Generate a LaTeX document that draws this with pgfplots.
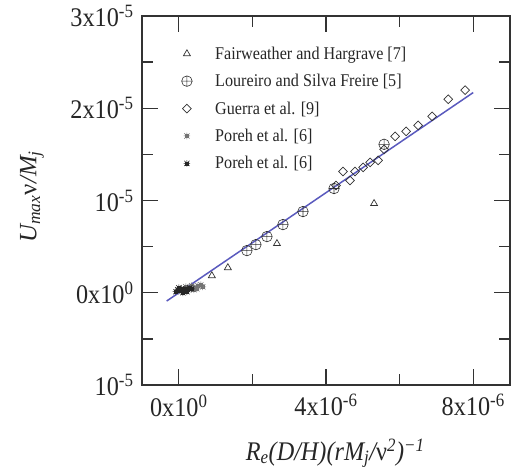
\documentclass[border=0pt]{standalone}
\usepackage{fontspec}
\setmainfont[FakeStretch=0.9]{Liberation Serif}
\newfontfamily\plainserif{Liberation Serif}
\usepackage{pgfplots}
\pgfplotsset{compat=1.18}

\definecolor{fitblue}{RGB}{90,90,190}
\definecolor{mk}{RGB}{50,50,50}

\pgfdeclareplotmark{sqray}{%
  \pgfpathmoveto{\pgfqpoint{-\pgfplotmarksize}{0pt}}\pgfpathlineto{\pgfqpoint{\pgfplotmarksize}{0pt}}%
  \pgfpathmoveto{\pgfqpoint{0pt}{-\pgfplotmarksize}}\pgfpathlineto{\pgfqpoint{0pt}{\pgfplotmarksize}}%
  \pgfpathmoveto{\pgfqpoint{-0.8\pgfplotmarksize}{-0.8\pgfplotmarksize}}\pgfpathlineto{\pgfqpoint{0.8\pgfplotmarksize}{0.8\pgfplotmarksize}}%
  \pgfpathmoveto{\pgfqpoint{-0.8\pgfplotmarksize}{0.8\pgfplotmarksize}}\pgfpathlineto{\pgfqpoint{0.8\pgfplotmarksize}{-0.8\pgfplotmarksize}}%
  \pgfusepathqstroke
  \pgfpathrectangle{\pgfqpoint{-0.45\pgfplotmarksize}{-0.45\pgfplotmarksize}}{\pgfqpoint{0.9\pgfplotmarksize}{0.9\pgfplotmarksize}}%
  \pgfusepathqstroke
}
\pgfdeclareplotmark{sqray*}{%
  \pgfpathmoveto{\pgfqpoint{-\pgfplotmarksize}{0pt}}\pgfpathlineto{\pgfqpoint{\pgfplotmarksize}{0pt}}%
  \pgfpathmoveto{\pgfqpoint{0pt}{-\pgfplotmarksize}}\pgfpathlineto{\pgfqpoint{0pt}{\pgfplotmarksize}}%
  \pgfpathmoveto{\pgfqpoint{-0.8\pgfplotmarksize}{-0.8\pgfplotmarksize}}\pgfpathlineto{\pgfqpoint{0.8\pgfplotmarksize}{0.8\pgfplotmarksize}}%
  \pgfpathmoveto{\pgfqpoint{-0.8\pgfplotmarksize}{0.8\pgfplotmarksize}}\pgfpathlineto{\pgfqpoint{0.8\pgfplotmarksize}{-0.8\pgfplotmarksize}}%
  \pgfusepathqstroke
  \pgfpathrectangle{\pgfqpoint{-0.5\pgfplotmarksize}{-0.5\pgfplotmarksize}}{\pgfqpoint{\pgfplotmarksize}{\pgfplotmarksize}}%
  \pgfusepathqfillstroke
}

\begin{document}
\begin{tikzpicture}
\begin{axis}[
  scale only axis, width=368bp, height=369bp,
  clip=false,
  xmin=-1e-6, xmax=9e-6, ymin=-1e-5, ymax=3e-5,
  xtick={0,4e-6,8e-6},
  xticklabels={0x10\textsuperscript{0},4x10\textsuperscript{-6},8x10\textsuperscript{-6}},
  minor xtick={2e-6,6e-6},
  ytick={-1e-5,0,1e-5,2e-5,3e-5},
  yticklabels={10\textsuperscript{-5},0x10\textsuperscript{0},10\textsuperscript{-5},2x10\textsuperscript{-5},3x10\textsuperscript{-5}},
  minor ytick={-0.5e-5,0.5e-5,1.5e-5,2.5e-5},
  scaled ticks=false,
  major tick length=16bp, minor tick length=11bp,
  tick style={line width=1.3bp, color=black!80},
  axis line style={line width=1.3bp, color=black!80},
  tick label style={font=\fontsize{27}{30}\selectfont, text=black!85},
  xticklabel style={yshift=-6bp},
  yticklabel style={xshift=-5bp},
  xlabel={\itshape R\textsubscript{e}(D/H)(rM\textsubscript{j}/{\upshape ν}\textsuperscript{2})\textsuperscript{−1}},
  xlabel style={font=\fontsize{27}{30}\selectfont, text=black!85, at={(axis description cs:0.525,0)}, anchor=base, yshift=-75bp},
  ylabel={\itshape U\textsubscript{max}{\upshape ν}/M\textsubscript{j}},
  ylabel style={font=\plainserif\fontsize{25}{28}\selectfont, text=black!85, at={(axis description cs:-0.299,0.51)}, anchor=center},
  legend style={draw=none, fill=none, at={(axis description cs:0.099,0.928)}, anchor=north west,
    font=\fontsize{18}{21}\selectfont, text=black!85, legend cell align=left, row sep=9.5bp,
    /tikz/every odd column/.append style={column sep=21bp}},
  legend cell align=left,
]
\addplot[only marks, mark=triangle, mark size=4bp, color=mk, line width=0.7bp]
  coordinates {(0.898e-6,0.185e-5) (1.333e-6,0.272e-5) (2.667e-6,0.533e-5) (5.306e-6,0.967e-5)};
\addlegendentry{Fairweather and Hargrave [7]}
\addplot[only marks, mark=oplus, mark size=5.3bp, color=mk, line width=0.6bp]
  coordinates {(1.850e-6,0.457e-5) (2.095e-6,0.522e-5) (2.395e-6,0.609e-5) (2.830e-6,0.739e-5)
   (3.374e-6,0.880e-5) (4.218e-6,1.130e-5) (5.578e-6,1.609e-5)};
\addlegendentry{Loureiro and Silva Freire [5]}
\addplot[only marks, mark=square, mark size=3.1bp, mark options={rotate=45}, color=mk, line width=0.7bp]
  coordinates {(4.272e-6,1.163e-5) (4.463e-6,1.315e-5) (4.653e-6,1.217e-5) (4.789e-6,1.315e-5)
   (5.007e-6,1.359e-5) (5.197e-6,1.413e-5) (5.415e-6,1.435e-5) (5.578e-6,1.554e-5)
   (5.878e-6,1.696e-5) (6.177e-6,1.750e-5) (6.503e-6,1.815e-5) (6.884e-6,1.913e-5)
   (7.320e-6,2.098e-5) (7.782e-6,2.196e-5)};
\addlegendentry{Guerra et al. [9]}
\addplot[only marks, mark=sqray, mark size=3.3bp, color=black!55, line width=0.5bp]
  coordinates {(0.19e-6,0.065e-5) (0.27e-6,0.043e-5) (0.35e-6,0.076e-5) (0.44e-6,0.054e-5)
   (0.52e-6,0.076e-5) (0.60e-6,0.087e-5) (0.65e-6,0.065e-5) (0.41e-6,0.033e-5) (0.49e-6,0.043e-5)};
\addlegendentry{Poreh et al. [6]}
\addplot[only marks, mark=sqray*, mark size=3.3bp, color=black!85, line width=0.5bp]
  coordinates {(-0.08e-6,0.011e-5) (-0.03e-6,0.033e-5) (0.03e-6,0.022e-5) (0.08e-6,0.043e-5)
   (0.14e-6,0.022e-5) (0.19e-6,0.043e-5) (0.24e-6,0.033e-5) (0.30e-6,0.054e-5)
   (0.35e-6,0.043e-5) (0.11e-6,0.0) (0.0,0.054e-5) (0.22e-6,0.011e-5)};
\addlegendentry{Poreh et al. [6]}
\addplot[color=fitblue, line width=1.5bp, forget plot]
  coordinates {(-0.33e-6,-0.09e-5) (8e-6,2.17e-5)};
\path (rel axis cs:0,0) ++(-142bp,-87bp);
\path (rel axis cs:1,1) ++(4bp,16bp);
\end{axis}
\end{tikzpicture}
\end{document}
